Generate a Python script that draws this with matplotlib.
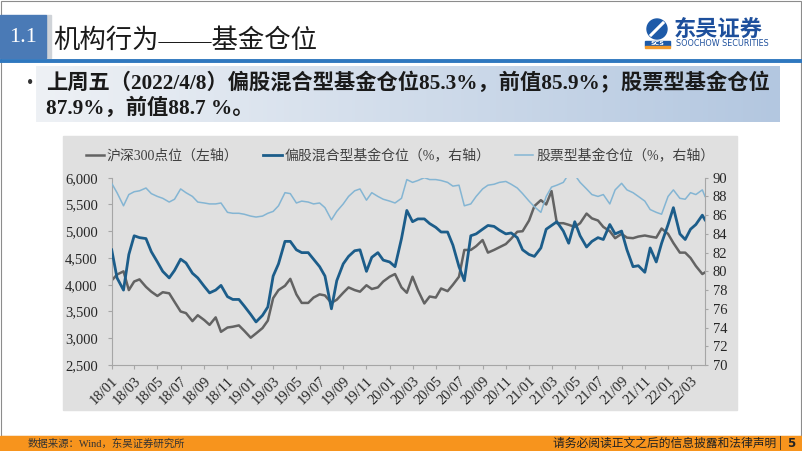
import numpy as np
import pandas as pd
import matplotlib
matplotlib.use('Agg')
import matplotlib.pyplot as plt
import matplotlib.dates as mdates
import matplotlib.patches as patches
from matplotlib.colors import LinearSegmentedColormap
from matplotlib.ticker import FuncFormatter, MultipleLocator

plt.rcParams['font.family'] = ['Liberation Serif', 'Noto Sans CJK SC']

# half-monthly points from 2018-01-01 to 2022-04-01, plus the last week 2022-04-08
dates = list(pd.date_range('2018-01-01', periods=103, freq='SMS')) + [pd.Timestamp('2022-04-08')]

# 沪深300点位 (left axis)
hs300 = [4080, 4190, 4250, 3900, 4060, 4100, 3960, 3870, 3790, 3860, 3840, 3680,
         3500, 3470, 3320, 3430, 3340, 3250, 3390, 3120, 3200, 3215, 3240, 3140,
         3010, 3090, 3190, 3330, 3750, 3900, 3980, 4110, 3820, 3660, 3660, 3760,
         3820, 3800, 3660, 3720, 3850, 3950, 3900, 3870, 3990, 3920, 3950, 4060,
         4150, 4200, 3950, 3850, 4150, 3900, 3650, 3780, 3760, 3930, 3880, 4000,
         4150, 4650, 4650, 4720, 4835, 4600, 4650, 4700, 4760, 4860, 4990, 5000,
         5200, 5470, 5580, 5500, 5750, 5150, 5150, 5120, 5080, 5150, 5330, 5240,
         5200, 5080, 5000, 4870, 4950, 4880, 4870, 4900, 4920, 4900, 4880, 5050,
         4950, 4780, 4600, 4600, 4500, 4350, 4200, 4230]

# 偏股混合型基金仓位 (%, right axis)
mixed_fund = [82.3, 79.3, 78.0, 81.8, 83.8, 83.6, 83.5, 82.1, 81.0, 80.0, 79.3, 80.1,
              81.3, 80.9, 79.8, 79.3, 78.4, 77.7, 78.0, 78.5, 77.3, 77.0, 77.0, 76.3,
              75.4, 74.6, 75.3, 76.2, 79.5, 80.8, 83.2, 83.2, 82.3, 82.0, 82.0, 81.3,
              80.5, 79.5, 76.0, 79.0, 80.8, 81.6, 82.2, 82.3, 80.0, 81.5, 82.0, 81.2,
              81.0, 80.5, 83.5, 86.5, 85.3, 85.6, 85.6, 85.1, 84.7, 84.2, 84.2, 82.8,
              80.5, 79.0, 83.8, 84.0, 84.5, 84.9, 84.8, 84.4, 84.0, 84.1, 83.6, 82.3,
              81.8, 81.6, 82.5, 84.5, 84.9, 85.3, 84.3, 83.0, 85.3, 83.8, 82.6, 83.2,
              83.6, 83.4, 85.0, 84.0, 84.3, 82.3, 80.5, 80.6, 79.9, 82.5, 81.0, 83.0,
              85.0, 86.8, 84.0, 83.4, 84.5, 85.0, 86.0, 85.5]

# 股票型基金仓位 (%, right axis)
stock_fund = [89.4, 88.4, 87.0, 88.2, 88.5, 88.6, 88.9, 88.3, 88.0, 87.8, 87.4, 87.7,
              88.8, 88.4, 88.0, 87.4, 87.3, 87.2, 87.2, 87.3, 86.3, 86.2, 86.2, 86.1,
              85.9, 85.8, 85.9, 86.2, 86.4, 87.0, 88.4, 88.3, 87.3, 87.5, 87.4, 87.2,
              87.3, 86.8, 85.5, 86.4, 87.2, 88.0, 88.6, 88.8, 87.6, 88.4, 88.0, 87.7,
              87.5, 87.3, 87.8, 89.8, 89.5, 89.7, 90.0, 89.8, 89.8, 89.7, 89.5, 89.1,
              89.2, 87.0, 87.2, 88.0, 88.8, 89.2, 89.3, 89.5, 89.6, 89.3, 88.9, 88.3,
              87.5, 86.9, 86.3, 88.0, 89.0, 89.2, 89.5, 90.4, 90.3, 89.5, 88.8, 88.2,
              88.0, 88.2, 87.2, 88.7, 89.4, 88.7, 88.4, 88.0, 87.5, 86.6, 86.3, 86.1,
              88.0, 88.7, 87.8, 87.7, 88.4, 88.2, 88.7, 88.0]

labels = ['沪深300点位（左轴）', '偏股混合型基金仓位（%，右轴）', '股票型基金仓位（%，右轴）']

fig = plt.figure(figsize=(8.02, 4.51), dpi=100)

# slide decoration, drawn in pixel coordinates
bg = fig.add_axes([0, 0, 1, 1])
bg.axis('off')

bg.add_patch(patches.Rectangle((63, 136), 674, 274, color='#e0e0e0', zorder=0))
bg.add_patch(patches.Rectangle((0.5, 0.5), 800, 435.5, fill=False, edgecolor='#8c8c8c', lw=0.8))

# title
bg.add_patch(patches.Rectangle((46, 15), 5, 43, color='#cfd3d8', zorder=1))
bg.add_patch(patches.Rectangle((0, 15), 46, 43, color='#4a7ab6', zorder=2))
bg.text(23, 37, '1.1', color='white', fontsize=16, ha='center', va='center')
bg.text(53, 40, '机构行为——基金仓位', fontsize=19, color='#1a1a1a', va='center')
bg.plot([0, 802], [61, 61], color='#2f78bf', lw=2.8, solid_capstyle='butt')

# logo
bg.add_patch(patches.Circle((657, 29), 10, color='#1d5aa8'))
bg.plot([651, 663], [35, 23], color='white', lw=2.2)
bg.add_patch(patches.Rectangle((645, 41), 25, 5, color='#1d5aa8'))
bg.add_patch(patches.Rectangle((645, 46), 25, 1.5, color='#f39a2a'))
bg.text(657.5, 43.6, 'SCS', color='white', fontsize=4.5, ha='center', va='center',
        family='DejaVu Sans', weight='bold')
bg.text(674, 29, '东吴证券', color='#1d4f9c', fontsize=16, weight='bold', va='center',
        family='Noto Sans CJK SC')
bg.text(676, 44, 'SOOCHOW SECURITIES', color='#1d4f9c', fontsize=5.8, va='center',
        family='DejaVu Sans')

# summary box with gradient
grad = np.linspace(0, 1, 256).reshape(1, -1)
cmap = LinearSegmentedColormap.from_list('box', ['#eef1f5', '#b3c7e0'])
bg.imshow(grad, extent=(36, 780, 122, 66), aspect='auto', cmap=cmap, zorder=1)
bg.text(30, 83, '•', fontsize=13, color='#333333', va='center', ha='center')
bg.text(46, 83, '上周五（2022/4/8）偏股混合型基金仓位85.3%，前值85.9%；股票型基金仓位',
        fontsize=15.3, weight='bold', color='#1a1a1a', va='center', zorder=3)
bg.text(46, 108, '87.9%，前值88.7 %。', fontsize=15.3, weight='bold', color='#1a1a1a',
        va='center', zorder=3)

# footer
bg.add_patch(patches.Rectangle((0, 436), 802, 15, color='#f7941d', zorder=1))
bg.text(28, 443.5, '数据来源：Wind，东吴证券研究所', fontsize=7.5, color='#333333',
        va='center', zorder=3)
bg.text(782, 443.5, '请务必阅读正文之后的信息披露和法律声明 |', fontsize=8.5,
        color='#222222', va='center', ha='right', family='Noto Sans CJK SC', zorder=3)
bg.text(791, 443.5, '5', fontsize=8.5, color='#222222', va='center', ha='center',
        family='DejaVu Sans', weight='bold', zorder=3)

bg.set_xlim(0, 802)
bg.set_ylim(451, 0)

# chart
ax = fig.add_axes([111.7 / 802, 86 / 451, 593.3 / 802, 187.3 / 451])
ax.patch.set_alpha(0)
ax2 = ax.twinx()

l1, = ax.plot(dates, hs300, color='#636363', lw=1.8)
l2, = ax2.plot(dates, mixed_fund, color='#1c5d8a', lw=2.0)
l3, = ax2.plot(dates, stock_fund, color='#84b5d3', lw=1.1)

ax.set_xlim(pd.Timestamp('2018-01-01'), pd.Timestamp('2022-04-08'))
ax.set_ylim(2500, 6000)
ax.yaxis.set_major_locator(MultipleLocator(500))
ax.yaxis.set_major_formatter(FuncFormatter(lambda v, p: f'{int(v):,}'))
ax2.set_ylim(70, 90)
ax2.yaxis.set_major_locator(MultipleLocator(2))

ax.xaxis.set_major_locator(mdates.MonthLocator(bymonth=[1, 3, 5, 7, 9, 11]))
ax.xaxis.set_major_formatter(mdates.DateFormatter('%y/%m'))

spine_col = '#a6a6a6'
for a in (ax, ax2):
    for s in a.spines.values():
        s.set_visible(False)
ax.spines['left'].set_visible(True)
ax.spines['bottom'].set_visible(True)
ax2.spines['right'].set_visible(True)
for s in (ax.spines['left'], ax.spines['bottom'], ax2.spines['right']):
    s.set_color(spine_col)
    s.set_linewidth(0.8)

ax.tick_params(axis='y', direction='out', length=3, color=spine_col, labelsize=10.5,
               labelcolor='#262626', pad=7)
ax2.tick_params(axis='y', direction='out', length=2.5, color=spine_col, labelsize=10.5,
                labelcolor='#262626', pad=3)
ax.tick_params(axis='x', direction='out', length=3, color=spine_col, labelsize=10.5,
               labelcolor='#262626', pad=4, labelrotation=45)
plt.setp(ax.get_xticklabels(), ha='right', rotation_mode='anchor')

fig.legend([l1, l2, l3], labels, loc='center left', bbox_to_anchor=(86 / 802, 1 - 156 / 451),
           ncol=3, frameon=False, fontsize=10, handlelength=1.3, handletextpad=0.2,
           columnspacing=1.8, borderpad=0, borderaxespad=0, labelcolor='#404040')

fig.savefig('out.png', dpi=100)
